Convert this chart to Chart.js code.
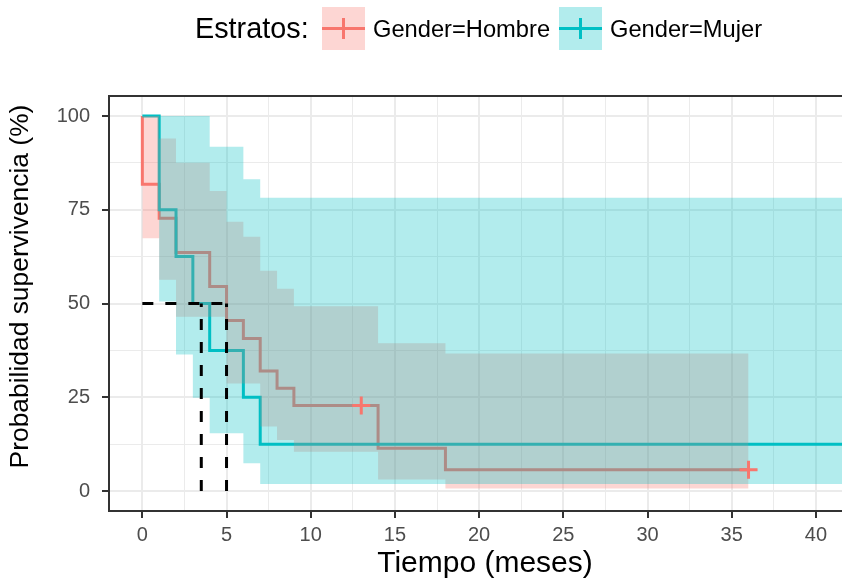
<!DOCTYPE html>
<html>
<head>
<meta charset="utf-8">
<script src="https://cdn.jsdelivr.net/npm/chart.js@4"></script>
<style>
  html, body { margin: 0; padding: 0; background: #fff; }
  #wrap { position: relative; width: 842px; height: 583px; font-family: 'Liberation Sans', Arial, sans-serif; }
  #chart { position: absolute; left: 0; top: 0; }
  .lg { position: absolute; white-space: nowrap; color: #000; }
  .key { position: absolute; width: 43px; height: 43px; }
  .key .h { position: absolute; left: 0; right: 0; top: 20px; height: 3px; }
  .key .v { position: absolute; left: 20px; width: 3px; top: 11px; height: 21px; }
</style>
</head>
<body>
<div id="wrap">
  <canvas id="chart" width="842" height="583"></canvas>
  <div class="lg" style="left:195px; top:14px; font-size:28.8px; line-height:28px;">Estratos:</div>
  <div class="key" style="left:322px; top:7px; background:rgba(248,118,109,0.3);">
    <div class="h" style="background:#F8766D"></div><div class="v" style="background:#F8766D"></div>
  </div>
  <div class="lg" style="left:373px; top:17px; font-size:23.7px; line-height:24px;">Gender=Hombre</div>
  <div class="key" style="left:559px; top:7px; background:rgba(0,191,196,0.3);">
    <div class="h" style="background:#00BFC4"></div><div class="v" style="background:#00BFC4"></div>
  </div>
  <div class="lg" style="left:610px; top:17px; font-size:23.7px; line-height:24px;">Gender=Mujer</div>
</div>
<script>
const hombreTime = [0, 0, 1, 2, 4, 5, 6, 7, 8, 9, 14, 18, 36];
const hombreSurv = [100, 81.8, 72.7, 63.6, 54.5, 45.5, 40.7, 32.0, 27.4, 22.8, 11.4, 5.7, 5.7];
const hombreBandTime = [0, 1, 2, 4, 5, 6, 7, 8, 9, 14, 18, 36];
const hombreUpper = [100, 94.0, 87.5, 80.0, 71.8, 67.8, 58.7, 53.9, 49.3, 39.4, 36.7, 36.7];
const hombreLower = [67.4, 56.3, 46.5, 46.5, 28.7, 28.7, 17.2, 13.6, 10.5, 3.1, 0.7, 0.7];
const hombreCensorTime = [13, 36];
const hombreCensorSurv = [22.8, 5.7];

const mujerTime = [0, 1, 2, 3, 4, 6, 7, 42];
const mujerSurv = [100, 75, 62.5, 50, 37.5, 25, 12.5, 12.5];
const mujerUpper = [100, 100, 100, 100, 91.8, 83.1, 78.2, 78.2];
const mujerLower = [100, 50.5, 36.4, 24.9, 15.4, 7.4, 1.9, 1.9];

const medianHombre = 5;
const medianMujer = 3.5;

const xTicks = [0, 5, 10, 15, 20, 25, 30, 35, 40];
const yTicks = [0, 25, 50, 75, 100];

const RED = '#F8766D';
const TEAL = '#00BFC4';
const FONT = "'Liberation Sans', Arial, sans-serif";

function pts(xs, ys) {
    return xs.map((x, i) => ({ x: x, y: ys[i] }));
}

// borde superior del panel y títulos de ejes
const panelExtras = {
    id: 'panelExtras',
    afterDraw(chart) {
        const { ctx, chartArea } = chart;
        ctx.save();
        ctx.strokeStyle = '#333333';
        ctx.lineWidth = 2;
        ctx.beginPath();
        ctx.moveTo(chartArea.left, chartArea.top);
        ctx.lineTo(chartArea.right + 2, chartArea.top);
        ctx.stroke();

        ctx.fillStyle = '#000';
        ctx.textAlign = 'center';
        ctx.textBaseline = 'alphabetic';
        ctx.font = '30px ' + FONT;
        ctx.fillText('Tiempo (meses)', 485, 572);

        ctx.translate(28, 286.5);
        ctx.rotate(-Math.PI / 2);
        ctx.font = '26.4px ' + FONT;
        ctx.fillText('Probabilidad supervivencia (%)', 0, 0);
        ctx.restore();
    }
};

const ctx = document.getElementById('chart');

new Chart(ctx, {
    type: 'line',
    data: {
        datasets: [
            // líneas de mediana
            { data: [{ x: 0, y: 50 }, { x: medianHombre, y: 50 }], borderColor: '#000', borderWidth: 3, borderDash: [11, 12], pointRadius: 0, fill: false, order: 0 },
            { data: [{ x: medianMujer, y: 0 }, { x: medianMujer, y: 50 }], borderColor: '#000', borderWidth: 3, borderDash: [11, 12], pointRadius: 0, fill: false, order: 0 },
            { data: [{ x: medianHombre, y: 0 }, { x: medianHombre, y: 50 }], borderColor: '#000', borderWidth: 3, borderDash: [11, 12], pointRadius: 0, fill: false, order: 0 },
            // censuras
            { data: pts(hombreCensorTime, hombreCensorSurv), showLine: false, pointStyle: 'cross', pointRadius: 9, pointBorderWidth: 3, pointBorderColor: RED, borderColor: RED, order: 1 },
            // banda Mujer
            { data: pts(mujerTime, mujerUpper), stepped: true, borderWidth: 0, pointRadius: 0, fill: '+1', backgroundColor: 'rgba(0,191,196,0.3)', order: 2 },
            { data: pts(mujerTime, mujerLower), stepped: true, borderWidth: 0, pointRadius: 0, fill: false, order: 2 },
            // banda Hombre
            { data: pts(hombreBandTime, hombreUpper), stepped: true, borderWidth: 0, pointRadius: 0, fill: '+1', backgroundColor: 'rgba(248,118,109,0.3)', order: 3 },
            { data: pts(hombreBandTime, hombreLower), stepped: true, borderWidth: 0, pointRadius: 0, fill: false, order: 3 },
            // curvas
            { data: pts(mujerTime, mujerSurv), stepped: true, borderColor: TEAL, borderWidth: 3, pointRadius: 0, fill: false, order: 4 },
            { data: pts(hombreTime, hombreSurv), stepped: true, borderColor: RED, borderWidth: 3, pointRadius: 0, fill: false, order: 5 }
        ]
    },
    options: {
        responsive: false,
        animation: false,
        events: [],
        layout: { autoPadding: false, padding: { top: 96, right: 0, bottom: 0, left: 0 } },
        plugins: { legend: { display: false }, tooltip: { enabled: false } },
        font: { family: FONT },
        scales: {
            x: {
                type: 'linear',
                min: -1.98,
                max: 41.55,
                afterFit: s => { s.height = 72; s.paddingLeft = 0; s.paddingRight = 0; },
                border: { display: true, color: '#333333', width: 2 },
                grid: {
                    color: '#EBEBEB',
                    lineWidth: c => xTicks.includes(c.tick && c.tick.value) ? 2 : 1,
                    tickColor: c => xTicks.includes(c.tick && c.tick.value) ? '#333333' : 'rgba(0,0,0,0)',
                    tickLength: 7,
                    tickWidth: 2
                },
                ticks: {
                    stepSize: 2.5,
                    includeBounds: false,
                    autoSkip: false,
                    maxRotation: 0,
                    padding: 5,
                    color: '#4D4D4D',
                    font: { size: 20, family: FONT },
                    callback: v => xTicks.includes(v) ? String(v) : ''
                }
            },
            y: {
                min: -5.33,
                max: 105.33,
                afterFit: s => { s.width = 109; },
                border: { display: true, color: '#333333', width: 2 },
                grid: {
                    color: '#EBEBEB',
                    lineWidth: c => yTicks.includes(c.tick && c.tick.value) ? 2 : 1,
                    tickColor: c => yTicks.includes(c.tick && c.tick.value) ? '#333333' : 'rgba(0,0,0,0)',
                    tickLength: 7,
                    tickWidth: 2
                },
                ticks: {
                    stepSize: 12.5,
                    includeBounds: false,
                    autoSkip: false,
                    padding: 12,
                    color: '#4D4D4D',
                    font: { size: 20, family: FONT },
                    callback: v => yTicks.includes(v) ? String(v) : ''
                }
            }
        }
    },
    plugins: [panelExtras]
});
</script>
</body>
</html>
